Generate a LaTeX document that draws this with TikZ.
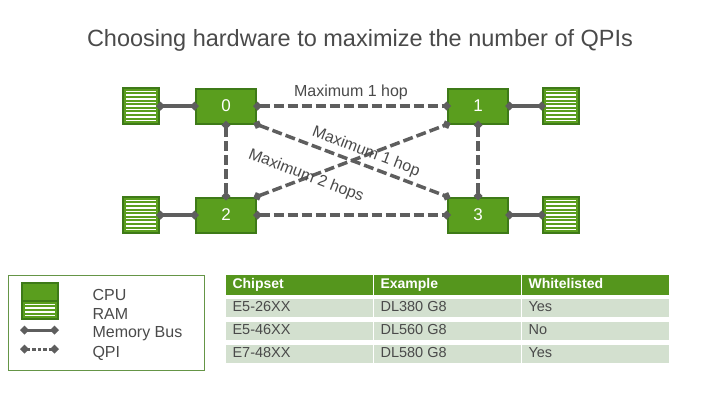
\documentclass[tikz,border=0pt]{standalone}
\usepackage{fontspec}
\setmainfont{Liberation Sans}
\usetikzlibrary{arrows.meta}
\definecolor{cpug}{HTML}{5A9E1E}
\definecolor{cpub}{HTML}{3E7A18}
\definecolor{con}{HTML}{5E5E5E}
\definecolor{rowg}{HTML}{D3E0CF}
\definecolor{txt}{HTML}{4A4A4A}
\tikzset{
 cpu/.style={draw=cpub,fill=cpug,line width=2pt,minimum width=60pt,minimum height=35pt,text=white,font=\fontsize{17}{20}\selectfont,inner sep=0},
 ram/.style={draw=cpub,fill=cpug,line width=2pt,minimum width=36pt,minimum height=36pt,inner sep=0,
   path picture={\foreach \i in {1,...,9}{\draw[white,line width=1.5pt] ([xshift=3pt,yshift=-\i*3.6pt]path picture bounding box.north west) -- ([xshift=-3pt,yshift=-\i*3.6pt]path picture bounding box.north east);}}},
 bus/.style={con,line width=3.5pt,{Diamond[length=9pt,width=9pt]}-{Diamond[length=9pt,width=9pt]},shorten <=-4pt,shorten >=-4pt},
 qpi/.style={bus,dash pattern=on 10pt off 4pt},
 lbl/.style={text=txt,font=\fontsize{16}{19}\selectfont},
 cell/.style={anchor=west,text=txt,font=\fontsize{14.5}{17}\selectfont,text height=10.5pt,text depth=3pt},
 hcell/.style={anchor=west,text=white,font=\bfseries\fontsize{14}{17}\selectfont,text height=10.5pt,text depth=3pt}
}
\begin{document}
\begin{tikzpicture}[x=1pt,y=-1pt]
\useasboundingbox (0,0) rectangle (720,405);
\node[text=txt,font=\fontsize{23.5}{28}\selectfont] (title) at (360,40) {Choosing hardware to maximize the number of QPIs};
\node[cpu] (c0) at (226,106) {0};
\node[cpu] (c1) at (478,106) {1};
\node[cpu] (c2) at (226,215) {2};
\node[cpu] (c3) at (478,215) {3};
\node[ram] (r0) at (141,106) {};
\node[ram] (r2) at (141,215) {};
\node[ram] (r1) at (561,106) {};
\node[ram] (r3) at (561,215) {};
\draw[bus] (r0.east) -- (c0.west);
\draw[bus] (r2.east) -- (c2.west);
\draw[bus] (c1.east) -- (r1.west);
\draw[bus] (c3.east) -- (r3.west);
\draw[qpi] (c0.east) -- (c1.west);
\draw[qpi] (c2.east) -- (c3.west);
\draw[qpi] (c0.south) -- (c2.north);
\draw[qpi] (c1.south) -- (c3.north);
\draw[qpi] (c0.south east) -- (c3.north west);
\draw[qpi] (c2.north east) -- (c1.south west);
\node[lbl,fill=white,inner sep=1pt] (l1) at (351,92) {Maximum 1 hop};
\node[lbl,rotate=-21] (l2) at (366,152) {Maximum 1 hop};
\node[lbl,rotate=-21] (l3) at (306,176) {Maximum 2 hops};
% legend
\node[draw=cpub!80,line width=1pt,minimum width=196pt,minimum height=95pt,inner sep=0] (leg) at (106,322.5) {};
\node[draw=cpub,fill=cpug,line width=2pt,minimum width=36pt,minimum height=36pt,inner sep=0,
   path picture={\foreach \i in {6,...,9}{\draw[white,line width=1.5pt] ([xshift=3pt,yshift=-\i*3.6pt]path picture bounding box.north west) -- ([xshift=-3pt,yshift=-\i*3.6pt]path picture bounding box.north east);}
   \draw[cpub,line width=1.5pt] ([yshift=-18pt]path picture bounding box.north west) -- ([yshift=-18pt]path picture bounding box.north east);}] (licon) at (40,301) {};
\coordinate (m1) at (20,330); \coordinate (m2) at (59,330);
\coordinate (q1) at (20,349); \coordinate (q2) at (59,349);
\draw[bus,line width=3pt,shorten <=0pt,shorten >=0pt] (m1) -- (m2);
\draw[bus,line width=3pt,dash pattern=on 3.5pt off 2pt,shorten <=0pt,shorten >=0pt] (q1) -- (q2);
\node[lbl,anchor=west,font=\fontsize{16}{19}\selectfont] (tcpu) at (89,295) {CPU};
\node[lbl,anchor=west,font=\fontsize{16}{19}\selectfont] (tram) at (89,314) {RAM};
\node[lbl,anchor=west,font=\fontsize{16}{19}\selectfont] (tmb) at (89,334) {Memory Bus};
\node[lbl,anchor=west,font=\fontsize{16}{19}\selectfont] (tqpi) at (89,353) {QPI};
% table
\foreach \x in {226,374,522}{\fill[cpug!95!black] (\x,275) rectangle (\x+147,295);}
\foreach \y in {299,322,345}{\foreach \x in {226,374,522}{\fill[rowg] (\x,\y) rectangle (\x+147,\y+18);}}
\node[hcell] (h1) at (229,285) {Chipset};
\node[hcell] (h2) at (377,285) {Example};
\node[hcell] (h3) at (525,285) {Whitelisted};
\node[cell] (a1) at (229,308) {E5-26XX};
\node[cell] (a2) at (377,308) {DL380 G8};
\node[cell] (a3) at (525,308) {Yes};
\node[cell] (b1) at (229,331) {E5-46XX};
\node[cell] (b2) at (377,331) {DL560 G8};
\node[cell] (b3) at (525,331) {No};
\node[cell] (d1) at (229,354) {E7-48XX};
\node[cell] (d2) at (377,354) {DL580 G8};
\node[cell] (d3) at (525,354) {Yes};
\end{tikzpicture}
\end{document}
